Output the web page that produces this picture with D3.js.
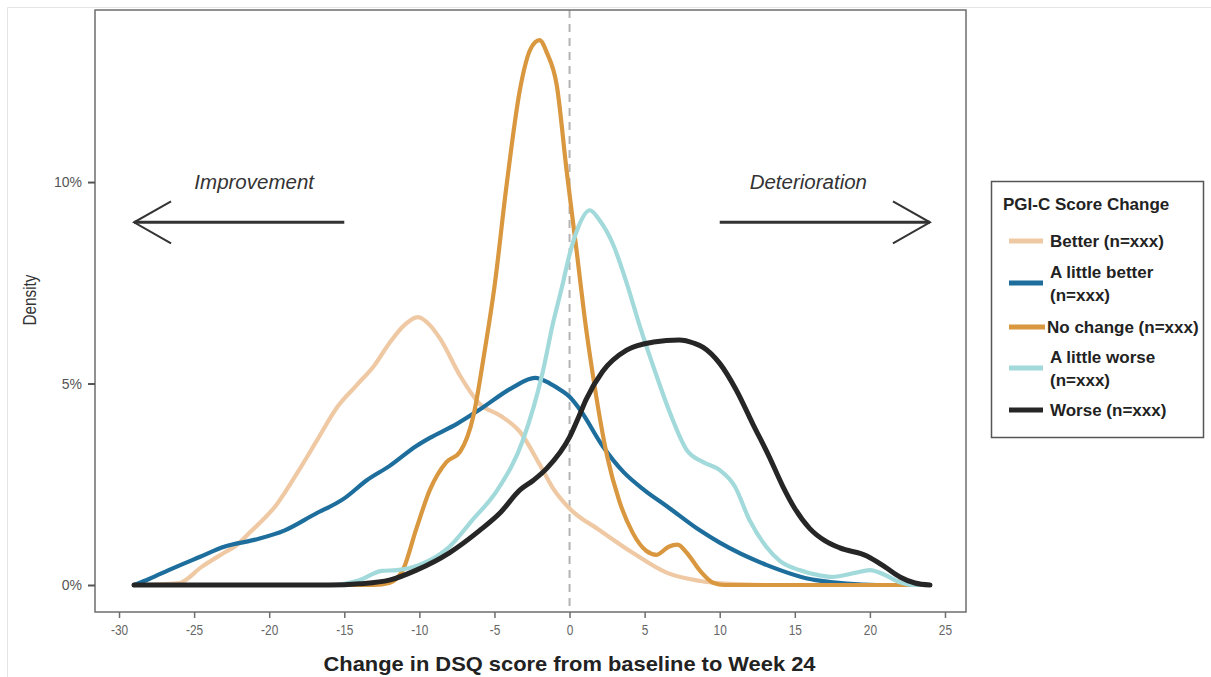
<!DOCTYPE html>
<html>
<head>
<meta charset="utf-8">
<script src="https://cdn.jsdelivr.net/npm/d3@7"></script>
<style>
  body { margin: 0; background: #fff; }
  text { font-family: "Liberation Sans", Arial, sans-serif; }
  .legend text { font-weight: bold; fill: #222; }
</style>
</head>
<body>
<div id="root"></div>
<script>
// density curves: [change in DSQ, density %]
let better = [[-29, 0], [-26, 0.05], [-24.5, 0.45], [-23, 0.8], [-22.2, 0.98], [-21.3, 1.3], [-19.5, 2.0],
  [-18.1, 2.8], [-16.8, 3.6], [-15.5, 4.4], [-14.2, 4.95], [-13, 5.45], [-12, 6.0], [-11, 6.45],
  [-10.1, 6.65], [-9.3, 6.45], [-8.6, 6.1], [-7.3, 5.2], [-6, 4.5], [-4.6, 4.2], [-3.3, 3.8],
  [-2, 3.0], [-1.1, 2.4], [0, 1.9], [2, 1.36], [4.2, 0.8], [6.5, 0.3], [8.7, 0.1], [11, 0.02],
  [13, 0], [24, 0]];

let littleBetter = [[-29, 0], [-28, 0.15], [-26.5, 0.4], [-24.6, 0.7], [-23, 0.95], [-21, 1.12],
  [-19, 1.35], [-17, 1.75], [-15, 2.15], [-13.5, 2.6], [-12, 2.95], [-10.2, 3.45], [-9.3, 3.65],
  [-7.5, 4.0], [-6, 4.35], [-3.8, 4.9], [-2.3, 5.14], [-1.3, 5.0], [-0.6, 4.84], [0, 4.67], [0.7, 4.35],
  [2.2, 3.45], [3.6, 2.8], [5, 2.35], [6.5, 1.95], [8.7, 1.35], [10, 1.05], [13.1, 0.5], [16.4, 0.12],
  [20.5, 0], [24, 0]];

let noChange = [[-29, 0], [-13, 0], [-12, 0.05], [-11.1, 0.37], [-10.2, 1.4], [-9.3, 2.36],
  [-8.2, 3.05], [-7.3, 3.3], [-6.4, 4.2], [-5.7, 5.7], [-5, 7.4], [-4.2, 9.9], [-3.3, 12.3],
  [-2.6, 13.3], [-2, 13.52], [-1.5, 13.2], [-0.85, 12.4], [-0.2, 10.3], [0.5, 8.2], [1.0, 6.65],
  [1.6, 5.1], [2.5, 3.2], [3.3, 2.1], [4.2, 1.3], [5.1, 0.85], [5.8, 0.75], [6.6, 0.95], [7.2, 1.0],
  [7.8, 0.8], [8.7, 0.35], [9.6, 0.05], [10.3, 0], [24, 0]];

let littleWorse = [[-29, 0], [-16, 0], [-14, 0.12], [-12.5, 0.35], [-11.5, 0.37], [-10, 0.5],
  [-8, 0.95], [-6.5, 1.6], [-4.8, 2.36], [-3.1, 3.6], [-1.8, 5.26], [-1.1, 6.5], [-0.5, 7.4],
  [0, 8.2], [0.6, 8.9], [1.35, 9.3], [2, 9.05], [2.9, 8.45], [3.8, 7.5], [4.7, 6.4], [5.6, 5.4],
  [6.7, 4.26], [7.8, 3.35], [8.9, 3.05], [10, 2.85], [11, 2.45], [12, 1.6], [13.1, 0.95], [14, 0.6],
  [15.3, 0.37], [16.5, 0.25], [17.5, 0.2], [19, 0.3], [20, 0.37], [21, 0.25], [22, 0.07], [23, 0], [24, 0]];

let worse = [[-29, 0], [-16, 0], [-14, 0.03], [-12, 0.12], [-10.2, 0.37], [-8, 0.8], [-6, 1.35],
  [-4.6, 1.8], [-3.3, 2.36], [-2.4, 2.6], [-1.5, 2.9], [0, 3.67], [0.7, 4.25], [1.1, 4.6], [2.2, 5.3],
  [3.8, 5.83], [5.6, 6.03], [7.3, 6.08], [8.3, 6.0], [8.9, 5.9], [10, 5.5], [11.1, 4.84], [12.2, 4.0],
  [13.3, 3.18], [14.2, 2.45], [15, 1.9], [16, 1.4], [17, 1.1], [18, 0.92], [19.8, 0.72], [21, 0.45],
  [22, 0.2], [23, 0.05], [24, 0]];

let seriesNames = ["Better (n=xxx)", "A little better\n(n=xxx)", "No change (n=xxx)",
  "A little worse\n(n=xxx)", "Worse (n=xxx)"];
let seriesColors = ["#efc9a4", "#1d6e9c", "#d9973f", "#a2d9da", "#262626"];
let seriesData = [better, littleBetter, noChange, littleWorse, worse];

let xTicks = [-30, -25, -20, -15, -10, -5, 0, 5, 10, 15, 20, 25];
let yTicks = [0, 5, 10];

// arrows: [from x, to x, y, label, label x]
let arrows = [[-15, -29, 9.0, "Improvement", -21], [10, 24, 9.0, "Deterioration", 15.9]];

// set the dimensions and margins of the graph
let W = 1211, H = 677;
let panel = { left: 95, top: 10, right: 966, bottom: 612 };

let x = d3.scaleLinear().domain([-31.6, 26.4]).range([panel.left, panel.right]);
let y = d3.scaleLinear().domain([-0.67, 14.27]).range([panel.bottom, panel.top]);

let svg = d3.select("#root").append("svg").attr("width", W).attr("height", H);

// faint outer frame
svg.append("path").attr("d", "M7.5," + H + "V7.5H" + W)
  .attr("fill", "none").attr("stroke", "#e4e4e4").attr("stroke-width", 1);

// zero reference line
svg.append("line")
  .attr("x1", x(0)).attr("x2", x(0))
  .attr("y1", panel.top).attr("y2", panel.bottom)
  .attr("stroke", "#b3b3b3").attr("stroke-width", 2)
  .attr("stroke-dasharray", "8,6");

// density lines
let valueline = d3.line()
  .x((d) => x(d[0]))
  .y((d) => y(d[1]))
  .curve(d3.curveMonotoneX);

seriesData.forEach((data, i) => {
  svg.append("path")
    .datum(data)
    .attr("fill", "none")
    .attr("stroke", seriesColors[i])
    .attr("stroke-width", i === 4 ? 5 : 4.2)
    .attr("stroke-linejoin", "round")
    .attr("stroke-linecap", "round")
    .attr("d", valueline);
});

// panel border
svg.append("rect")
  .attr("x", panel.left).attr("y", panel.top)
  .attr("width", panel.right - panel.left).attr("height", panel.bottom - panel.top)
  .attr("fill", "none").attr("stroke", "#6e6e6e").attr("stroke-width", 1.5);

// x axis
let xAxis = svg.append("g")
  .attr("transform", "translate(0," + panel.bottom + ")")
  .call(d3.axisBottom(x).tickValues(xTicks).tickFormat((d) => String(d)).tickSize(6).tickPadding(7));
xAxis.select(".domain").remove();
xAxis.selectAll(".tick line").attr("stroke", "#6e6e6e").attr("stroke-width", 1.5);
xAxis.selectAll(".tick text").attr("fill", "#666").style("font-size", "14.5px")
  .attr("transform", "scale(0.82,1)");

// y axis
let yAxis = svg.append("g")
  .attr("transform", "translate(" + panel.left + ",0)")
  .call(d3.axisLeft(y).tickValues(yTicks).tickFormat((d) => d + "%").tickSize(7).tickPadding(6));
yAxis.select(".domain").remove();
yAxis.selectAll(".tick line").attr("stroke", "#555").attr("stroke-width", 2);
yAxis.selectAll(".tick text").attr("fill", "#555").style("font-size", "14px");

// axis titles
svg.append("text")
  .attr("x", x(0) - 246).attr("y", 671)
  .attr("textLength", 492).attr("lengthAdjust", "spacingAndGlyphs")
  .style("font-size", "21px").style("font-weight", "bold").attr("fill", "#222")
  .text("Change in DSQ score from baseline to Week 24");

svg.append("text")
  .attr("transform", "translate(36,300) rotate(-90) scale(0.85,1)")
  .attr("text-anchor", "middle")
  .style("font-size", "18px").attr("fill", "#333")
  .text("Density");

// improvement / deterioration arrows
arrows.forEach((a) => {
  let dir = a[1] < a[0] ? 1 : -1;
  let g = svg.append("g").attr("stroke", "#333").attr("fill", "none");
  g.append("line")
    .attr("x1", x(a[0])).attr("x2", x(a[1]))
    .attr("y1", y(a[2])).attr("y2", y(a[2]))
    .attr("stroke-width", 3);
  g.append("path")
    .attr("d", "M" + (x(a[1]) + dir * 37) + "," + (y(a[2]) - 21) +
      "L" + x(a[1]) + "," + y(a[2]) +
      "L" + (x(a[1]) + dir * 37) + "," + (y(a[2]) + 21))
    .attr("stroke-width", 2);
  svg.append("text")
    .attr("x", x(a[4])).attr("y", y(a[2]) - 33)
    .attr("text-anchor", "middle")
    .style("font-style", "italic").style("font-size", "20.5px").attr("fill", "#333")
    .text(a[3]);
});

// legend
let legend = svg.append("g").attr("class", "legend");
legend.append("rect")
  .attr("x", 991.5).attr("y", 181.5).attr("width", 212).attr("height", 256)
  .attr("fill", "#fff").attr("stroke", "#555").attr("stroke-width", 1.5);
legend.append("text").attr("x", 1003).attr("y", 210)
  .style("font-size", "17px").text("PGI-C Score Change");

let legendY = [241, 283, 327, 368, 410];
seriesNames.forEach((name, i) => {
  let lines = name.split("\n");
  let tx = i === 2 ? 1047 : 1050;
  legend.append("line")
    .attr("x1", 1009).attr("x2", i === 2 ? 1045 : 1043)
    .attr("y1", legendY[i]).attr("y2", legendY[i])
    .attr("stroke", seriesColors[i]).attr("stroke-width", 5);
  let t = legend.append("text")
    .attr("x", tx)
    .attr("y", legendY[i] + 6 - (lines.length - 1) * 11.5)
    .style("font-size", "17px");
  lines.forEach((l, j) => {
    t.append("tspan").attr("x", tx).attr("dy", j === 0 ? 0 : 23).text(l);
  });
});
</script>
</body>
</html>
